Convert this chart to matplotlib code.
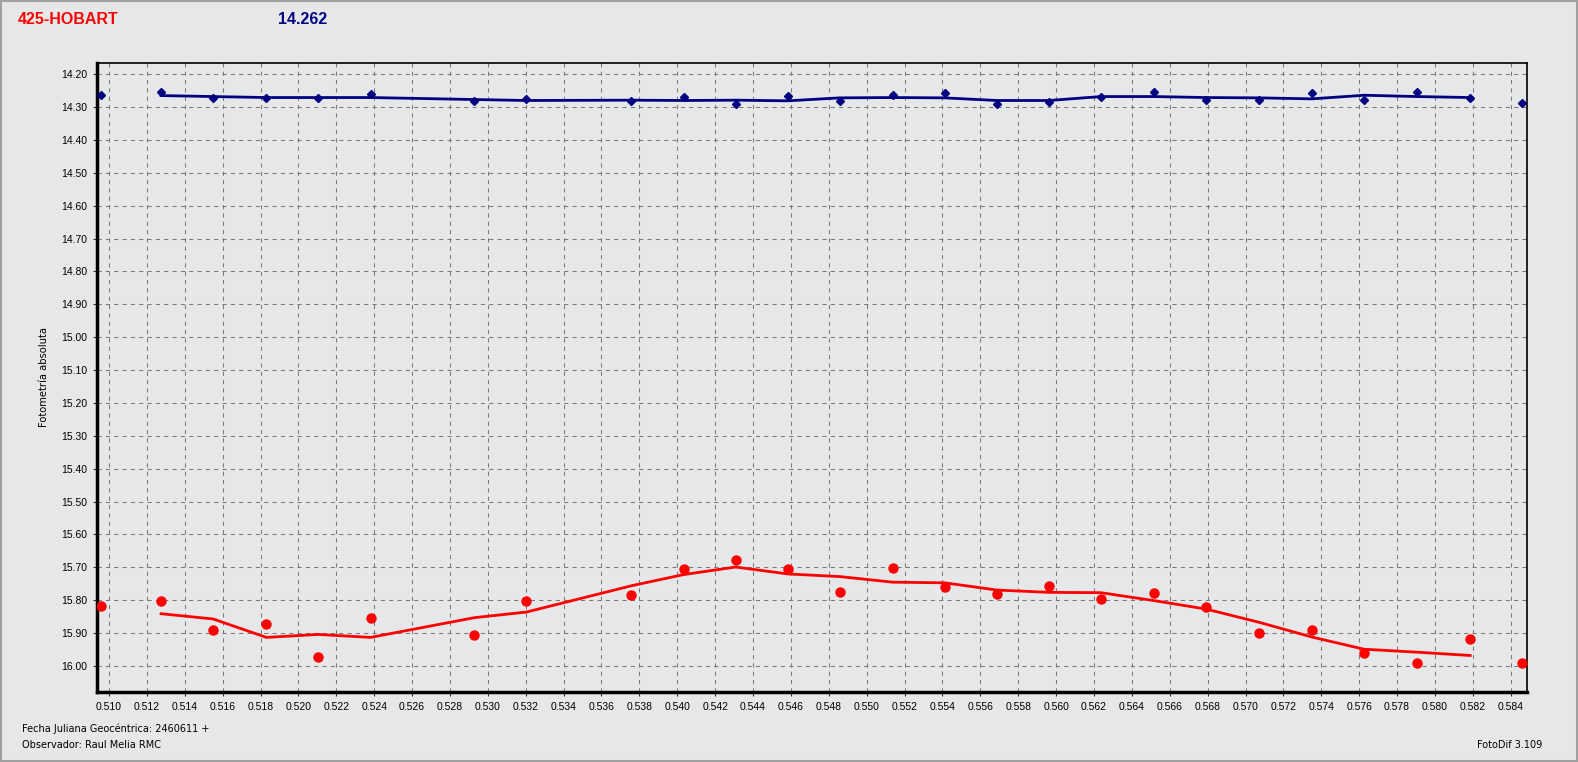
#!/usr/bin/env python3
"""
Light curve plot for 425-HOBART (FotoDif style)
"""
import matplotlib

matplotlib.use("Agg")
import matplotlib.pyplot as plt
from matplotlib.patches import Rectangle
from matplotlib.ticker import MultipleLocator, FormatStrFormatter

# Julian date fraction (JD 2460611 + x)
jd_points = [
    0.50959, 0.51275, 0.51550, 0.51831, 0.52104, 0.52381, 0.52929, 0.53203,
    0.53758, 0.54033, 0.54308, 0.54584, 0.54857, 0.55137, 0.55412, 0.55687,
    0.55963, 0.56236, 0.56516, 0.56793, 0.57071, 0.57351, 0.57626, 0.57906,
    0.58186, 0.58461,
]

# asteroid magnitudes (red)
target_mag = [
    15.816, 15.801, 15.892, 15.871, 15.973, 15.853, 15.907, 15.801,
    15.783, 15.704, 15.677, 15.704, 15.774, 15.701, 15.759, 15.780,
    15.756, 15.795, 15.777, 15.822, 15.901, 15.889, 15.959, 15.992,
    15.919, 15.992,
]

# comparison star magnitudes (blue)
comp_mag = [
    14.262, 14.253, 14.272, 14.271, 14.271, 14.259, 14.283, 14.275,
    14.281, 14.268, 14.292, 14.265, 14.283, 14.262, 14.256, 14.292,
    14.286, 14.268, 14.253, 14.280, 14.280, 14.256, 14.280, 14.253,
    14.271, 14.289,
]

# smoothed curves (running mean, drawn from 2nd to 25th point)
target_smooth = [
    15.841, 15.857, 15.913, 15.904, 15.913, 15.853, 15.836, 15.756,
    15.722, 15.699, 15.720, 15.728, 15.745, 15.747, 15.769, 15.776,
    15.777, 15.801, 15.827, 15.867, 15.912, 15.949, 15.958, 15.968,
]
comp_smooth = [
    14.265, 14.268, 14.271, 14.271, 14.271, 14.277, 14.280, 14.279,
    14.280, 14.279, 14.281, 14.272, 14.271, 14.272, 14.280, 14.280,
    14.268, 14.268, 14.271, 14.272, 14.275, 14.264, 14.268, 14.271,
]
jd_smooth = jd_points[1:25]

BG = "#e6e7e9"

fig = plt.figure(figsize=(15.78, 7.62), dpi=100, facecolor=BG)
ax = fig.add_axes([0.0615, 0.0919, 0.9062, 0.8254], facecolor=BG)

ax.plot(jd_smooth, comp_smooth, color="#000080", linewidth=2, zorder=3)
ax.plot(jd_points, comp_mag, linestyle="none", marker="D", markersize=4.5,
        color="#000080", zorder=4)
ax.plot(jd_smooth, target_smooth, color="#ff0000", linewidth=2, zorder=3)
ax.plot(jd_points, target_mag, linestyle="none", marker="o", markersize=6.5,
        color="#ff0000", zorder=4)

ax.set_xlim(0.50937, 0.58486)
ax.set_ylim(16.079, 14.166)

ax.xaxis.set_major_locator(MultipleLocator(0.002))
ax.xaxis.set_major_formatter(FormatStrFormatter("%.3f"))
ax.yaxis.set_major_locator(MultipleLocator(0.1))
ax.yaxis.set_major_formatter(FormatStrFormatter("%.2f"))
ax.tick_params(axis="both", labelsize=7.5, length=3, width=0.8, color="#333333",
               pad=4)
for lbl in ax.get_xticklabels() + ax.get_yticklabels():
    lbl.set_fontfamily("Liberation Sans")

ax.grid(True, color="#7a7a7a", linestyle=(0, (4, 4)), linewidth=0.75)
ax.set_axisbelow(True)

ax.spines["left"].set_linewidth(2.5)
ax.spines["bottom"].set_linewidth(2.5)
ax.spines["top"].set_linewidth(1.2)
ax.spines["right"].set_linewidth(1.2)

ax.set_ylabel("Fotometría absoluta", fontsize=7.2, family="DejaVu Sans")
ax.yaxis.set_label_coords(-0.0336, 0.5)

fig.text(18 / 1578, 1 - 19 / 762, "425-HOBART", color="#ff0000", fontsize=11.5,
         fontweight="bold", family="Liberation Sans", va="center", ha="left")
fig.text(278 / 1578, 1 - 19 / 762, "14.262", color="#000080", fontsize=11.5,
         fontweight="bold", family="Liberation Sans", va="center", ha="left")

fig.text(22 / 1578, 1 - 729 / 762, "Fecha Juliana Geocéntrica: 2460611 +",
         fontsize=7, family="DejaVu Sans", va="center", ha="left")
fig.text(22 / 1578, 1 - 745 / 762, "Observador: Raul Melia RMC",
         fontsize=7, family="DejaVu Sans", va="center", ha="left")
fig.text(1542 / 1578, 1 - 745 / 762, "FotoDif 3.109",
         fontsize=7, family="DejaVu Sans", va="center", ha="right")

# window frame
fig.patches.append(Rectangle((0.0005, 0.001), 0.999, 0.998,
                             transform=fig.transFigure, fill=False,
                             edgecolor="#a0a0a0", linewidth=1.5))

fig.savefig("out.png", dpi=100, facecolor=BG)
